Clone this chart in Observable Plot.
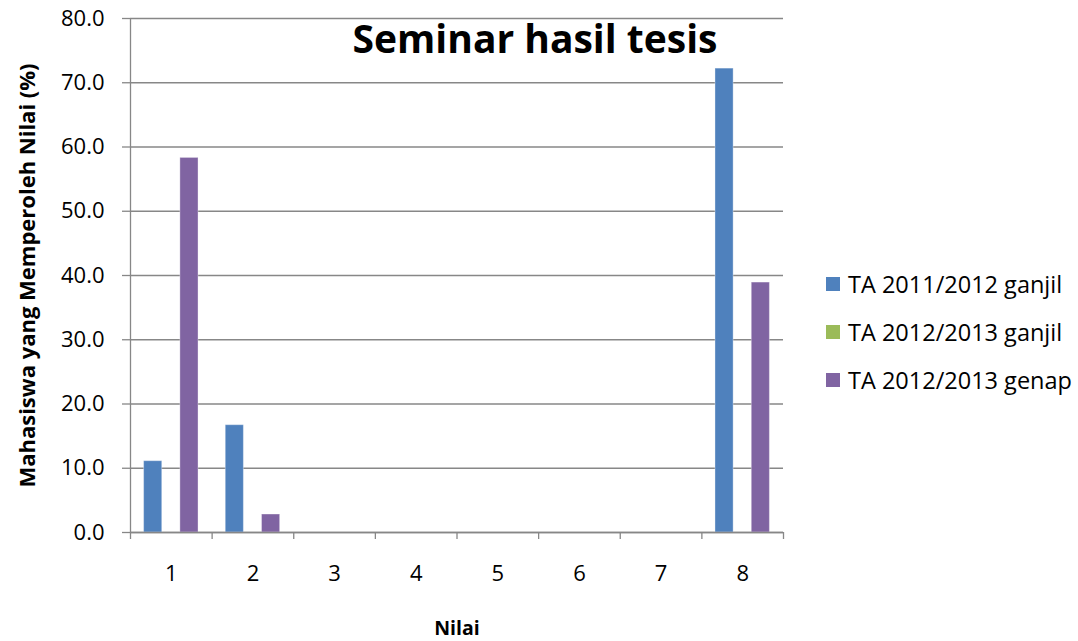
<!DOCTYPE html>
<html><head><meta charset="utf-8">
<script src="https://cdn.jsdelivr.net/npm/d3@7"></script>
<script src="https://cdn.jsdelivr.net/npm/@observablehq/plot@0.6"></script>
<style>
body{margin:0;background:#fff;}
#wrap{position:relative;width:1078px;height:641px;font-family:"Open Sans",sans-serif;}
.leg{position:absolute;left:826px;display:flex;align-items:center;font-size:23.5px;color:#000;white-space:nowrap;}
.leg span.sw{display:inline-block;width:14px;height:14px;margin-right:8px;}
</style>
</head><body><div id="wrap"></div>
<script>
const categories = [1, 2, 3, 4, 5, 6, 7, 8];
const seriesNames = ["TA 2011/2012 ganjil", "TA 2012/2013 ganjil", "TA 2012/2013 genap"];
const seriesColors = ["#4F81BD", "#9BBB59", "#8064A2"];
const ta20112012ganjil = [11.1, 16.7, 0, 0, 0, 0, 0, 72.2];
const ta20122013ganjil = [0, 0, 0, 0, 0, 0, 0, 0];
const ta20122013genap = [58.3, 2.8, 0, 0, 0, 0, 0, 38.9];
const yTicks = [0, 10, 20, 30, 40, 50, 60, 70, 80];
const titleText = "Seminar hasil tesis";
const yLabel = "Mahasiswa yang Memperoleh Nilai (%)";
const xLabel = "Nilai";

const seriesValues = [ta20112012ganjil, ta20122013ganjil, ta20122013genap];
const data = [];
categories.forEach((c, i) => seriesValues.forEach((vals, s) => data.push({cat: c, si: s, series: seriesNames[s], value: vals[i]})));
const boundaries = [0.5, ...categories.map(c => c + 0.5)];

// Excel-style clustered layout: gap width 150% -> step = 1/(3+1.5)
const step = 1 / 4.5;
const x1 = d => d.cat - 0.5 + (0.75 + d.si) * step;
const x2 = d => d.cat - 0.5 + (1.75 + d.si) * step;

const grid = "#878787";
const chart = Plot.plot({
  width: 1078, height: 641,
  marginLeft: 130, marginRight: 295, marginTop: 18, marginBottom: 109,
  style: {fontFamily: "'Open Sans', sans-serif", fontSize: "22px", color: "#000", background: "#fff", overflow: "visible"},
  x: {domain: [0.5, 8.5]},
  y: {domain: [0, 80]},
  color: {domain: seriesNames, range: seriesColors},
  marks: [
    Plot.ruleY(yTicks, {stroke: grid, strokeWidth: 1.3}),
    Plot.axisY({ticks: yTicks, tickSize: 8, tickPadding: 18, tickFormat: d => d.toFixed(1), stroke: grid, strokeWidth: 1.3, strokeOpacity: 1, label: null}),
    Plot.rectY(data.filter(d => d.value > 0), {x1, x2, y1: 0, y2: "value", fill: "series", stroke: "#ffffff", strokeOpacity: 0.35, strokeWidth: 1}),
    Plot.ruleX([0.5], {stroke: grid, strokeWidth: 1.3}),
    Plot.ruleY([0], {stroke: grid, strokeWidth: 1.3}),
    Plot.axisX({ticks: boundaries, tickSize: 7, tickFormat: () => "", stroke: grid, strokeWidth: 1.3, strokeOpacity: 1, label: null}),
    Plot.axisX({ticks: categories, tickSize: 0, tickPadding: 33, tickFormat: d => String(d), label: null}),
    Plot.text([yLabel], {frameAnchor: "left", textAnchor: "middle", lineAnchor: "middle", rotate: -90, dx: -103, fontWeight: "bold", fontSize: 22}),
    Plot.text([xLabel], {frameAnchor: "bottom", lineAnchor: "middle", dy: 96, fontWeight: "bold", fontSize: 19.5}),
    Plot.text([titleText], {frameAnchor: "top", dx: 78, dy: 7, fontWeight: "bold", fontSize: 39})
  ]
});
const wrap = document.getElementById("wrap");
wrap.appendChild(chart);
const rowY = [284, 332, 380];
seriesNames.forEach((name, i) => {
  const el = document.createElement("div");
  el.className = "leg";
  el.style.top = (rowY[i] - 16) + "px";
  el.style.height = "32px";
  el.innerHTML = `<span class="sw" style="background:${seriesColors[i]}"></span><span>${name}</span>`;
  wrap.appendChild(el);
});
</script>
</body></html>
